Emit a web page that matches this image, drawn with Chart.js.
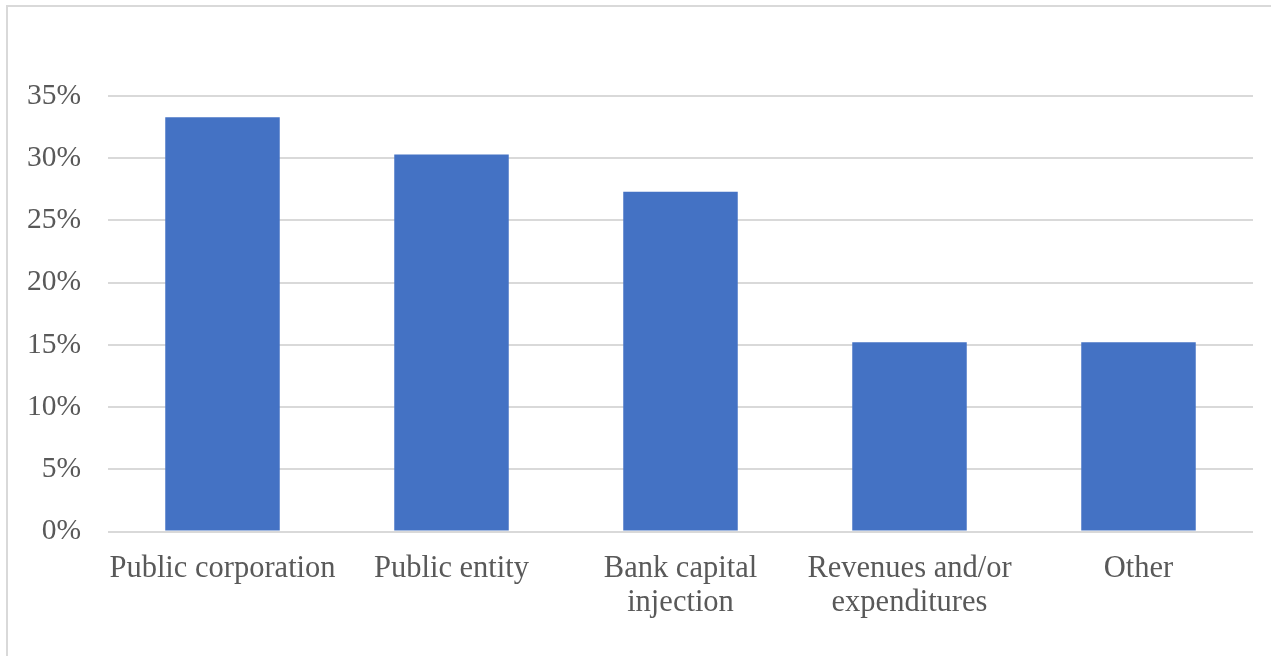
<!DOCTYPE html>
<html>
<head>
<meta charset="utf-8">
<script src="https://cdn.jsdelivr.net/npm/chart.js@4"></script>
<style>
  html, body { margin: 0; padding: 0; background: #fff; }
  #frame { position: absolute; left: 6px; top: 5px; width: 1265px; height: 651px;
           border-left: 2px solid #d9d9d9; border-top: 2px solid #d9d9d9; box-sizing: border-box; }
  #wrap { position: absolute; left: 0; top: 0; width: 1271px; height: 656px; }
</style>
</head>
<body>
<div id="frame"></div>
<div id="wrap"><canvas id="c"></canvas></div>
<script>
const categories = [
  'Public corporation',
  'Public entity',
  ['Bank capital', 'injection'],
  ['Revenues and/or', 'expenditures'],
  'Other'
];
const values = [33.3, 30.3, 27.3, 15.2, 15.2];
const yTicks = [0, 5, 10, 15, 20, 25, 30, 35];

const YFONT = { family: '"Liberation Serif", "Times New Roman", serif', size: 29.5, lineHeight: 1.15 };
const XFONT = { family: '"Liberation Serif", "Times New Roman", serif', size: 30.5, lineHeight: 1.13 };

new Chart(document.getElementById('c'), {
  type: 'bar',
  data: {
    labels: categories,
    datasets: [{
      data: values,
      backgroundColor: '#4472C4',
      borderWidth: 0,
      barPercentage: 0.5,
      categoryPercentage: 1.0
    }]
  },
  options: {
    responsive: true,
    maintainAspectRatio: false,
    animation: false,
    layout: { padding: { top: 96, right: 18, bottom: 0, left: 0 } },
    plugins: { legend: { display: false }, tooltip: { enabled: false } },
    scales: {
      x: {
        grid: { display: false, drawTicks: false },
        border: { display: false },
        ticks: { color: '#595959', font: XFONT, padding: 20, maxRotation: 0, autoSkip: false },
        afterFit: (s) => { s.height = 656 - 531.5; }
      },
      y: {
        min: 0, max: 35,
        grid: { color: '#d9d9d9', lineWidth: 2, drawTicks: false },
        border: { display: false },
        afterBuildTicks: (s) => { s.ticks = yTicks.map(v => ({ value: v })); },
        ticks: { color: '#595959', font: YFONT, padding: 27, callback: (v) => v + '%' },
        afterFit: (s) => { s.width = 108; }
      }
    }
  }
});
</script>
</body>
</html>
